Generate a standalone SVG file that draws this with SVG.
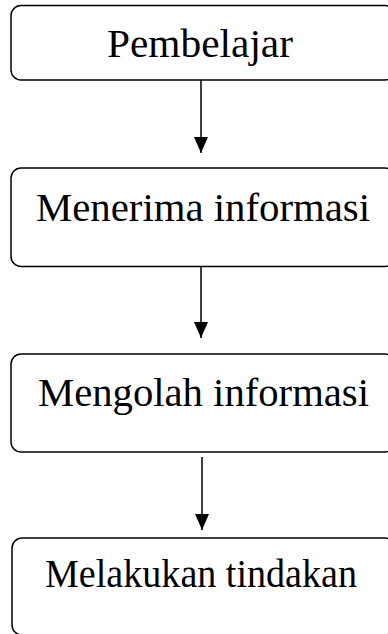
<svg xmlns="http://www.w3.org/2000/svg" width="388" height="634" viewBox="0 0 388 634">
  <style>
    .box { fill: #ffffff; stroke: #000000; stroke-width: 1.5; }
    .lbl { font-family: "Liberation Serif", "DejaVu Serif", serif; font-size: 39px; fill: #000000; text-anchor: middle; }
    .conn { stroke: #000000; stroke-width: 1.5; fill: none; }
  </style>
  <defs>
    <marker id="arrow" markerUnits="userSpaceOnUse" viewBox="0 0 16 14" markerWidth="16" markerHeight="14" refX="16" refY="7" orient="auto">
      <path d="M0,0 L16,7 L0,14 z" fill="#000000"/>
    </marker>
  </defs>
  <rect width="388" height="634" fill="#ffffff"/>
  <g id="connectors">
    <line class="conn" x1="201" y1="80" x2="201" y2="153" marker-end="url(#arrow)"/>
    <line class="conn" x1="201" y1="267" x2="201" y2="338" marker-end="url(#arrow)"/>
    <line class="conn" x1="202" y1="457" x2="202" y2="530" marker-end="url(#arrow)"/>
  </g>
  <g id="node-pembelajar">
    <rect class="box" x="11" y="5.5" width="384" height="74.5" rx="10" ry="10"/>
    <text class="lbl" x="200" y="57" textLength="186" lengthAdjust="spacingAndGlyphs">Pembelajar</text>
  </g>
  <g id="node-menerima">
    <rect class="box" x="11" y="168" width="384" height="98.5" rx="10" ry="10"/>
    <text class="lbl" x="203" y="221" textLength="334" lengthAdjust="spacingAndGlyphs">Menerima informasi</text>
  </g>
  <g id="node-mengolah">
    <rect class="box" x="11" y="354" width="384" height="98" rx="10" ry="10"/>
    <text class="lbl" x="203.5" y="406" textLength="331" lengthAdjust="spacingAndGlyphs">Mengolah informasi</text>
  </g>
  <g id="node-melakukan">
    <rect class="box" x="12" y="538" width="383" height="97" rx="10" ry="10"/>
    <text class="lbl" x="201" y="587" textLength="312" lengthAdjust="spacingAndGlyphs">Melakukan tindakan</text>
  </g>
</svg>
